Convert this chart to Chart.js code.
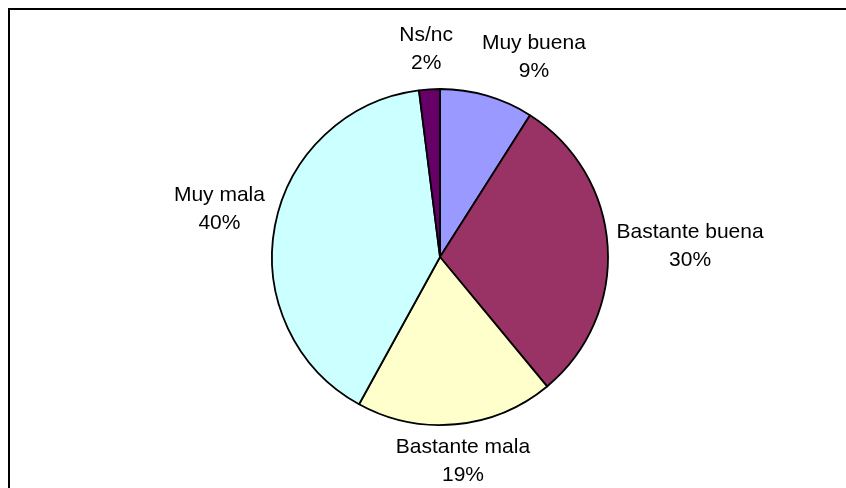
<!DOCTYPE html>
<html>
<head>
<meta charset="utf-8">
<script src="https://cdn.jsdelivr.net/npm/chart.js@4"></script>
<style>
  html, body { margin: 0; padding: 0; background: #fff; overflow: hidden; }
  #wrap { position: relative; width: 846px; height: 488px; }
</style>
</head>
<body>
<div id="wrap"><canvas id="myChart" width="846" height="488"></canvas></div>
<script>
// answers, clockwise from 12 o'clock
const labels = ['Muy buena', 'Bastante buena', 'Bastante mala', 'Muy mala', 'Ns/nc'];
const values = [9, 30, 19, 40, 2];
const sliceColors = ['#9999FF', '#993366', '#FFFFCC', '#CCFFFF', '#660066'];

const ctx = document.getElementById('myChart');

// outer frame of the old Excel chart, cut off on the right and bottom
const framePlugin = {
  id: 'frame',
  beforeDraw: (chart) => {
    const c = chart.ctx;
    c.save();
    c.fillStyle = '#fff';
    c.fillRect(0, 0, chart.width, chart.height);
    c.strokeStyle = '#000';
    c.lineWidth = 2;
    c.strokeRect(9, 9, chart.width + 20, chart.height + 20);
    c.restore();
  }
};

// "name / xx%" labels outside each slice
const outsideLabels = {
  id: 'outsideLabels',
  afterDatasetsDraw: (chart, args, opts) => {
    const c = chart.ctx;
    const meta = chart.getDatasetMeta(0);
    const lineH = opts.lineHeight;
    c.save();
    c.font = opts.font;
    c.fillStyle = '#000';
    c.textAlign = 'center';
    c.textBaseline = 'middle';
    meta.data.forEach((arc, i) => {
      const p = arc.getProps(['x', 'y', 'startAngle', 'endAngle', 'outerRadius'], true);
      const mid = (p.startAngle + p.endAngle) / 2;
      const dx = Math.cos(mid), dy = Math.sin(mid);
      const line1 = labels[i];
      const line2 = values[i] + '%';
      const w = Math.max(c.measureText(line1).width, c.measureText(line2).width);
      const h = lineH * 2;
      const ax = p.x + (p.outerRadius + opts.gap) * dx;
      const ay = p.y + (p.outerRadius + opts.gap) * dy;
      // Excel pushes some labels aside to keep them apart
      const nudge = opts.nudge[i] || [0, 0];
      const cx = ax + dx * w / 2 + nudge[0];
      const cy = ay + dy * h / 2 + nudge[1];
      c.fillText(line1, cx, cy - lineH / 2);
      c.fillText(line2, cx, cy + lineH / 2);
    });
    c.restore();
  }
};

const myChart = new Chart(ctx, {
  type: 'pie',
  data: {
    labels: labels,
    datasets: [{
      data: values,
      backgroundColor: sliceColors,
      borderColor: '#000',
      borderWidth: 1.8
    }]
  },
  options: {
    responsive: false,
    animation: false,
    radius: 168,
    layout: { padding: { left: 34, right: 0, top: 26, bottom: 0 } },
    plugins: {
      legend: { display: false },
      tooltip: { enabled: false },
      outsideLabels: {
        font: '21px "Liberation Sans", Arial, sans-serif',
        lineHeight: 28,
        gap: 9,
        nudge: { 0: [30, -3], 1: [0, 2], 3: [-2, -9], 4: [-1, -3] }
      }
    }
  },
  plugins: [framePlugin, outsideLabels]
});
</script>
</body>
</html>
